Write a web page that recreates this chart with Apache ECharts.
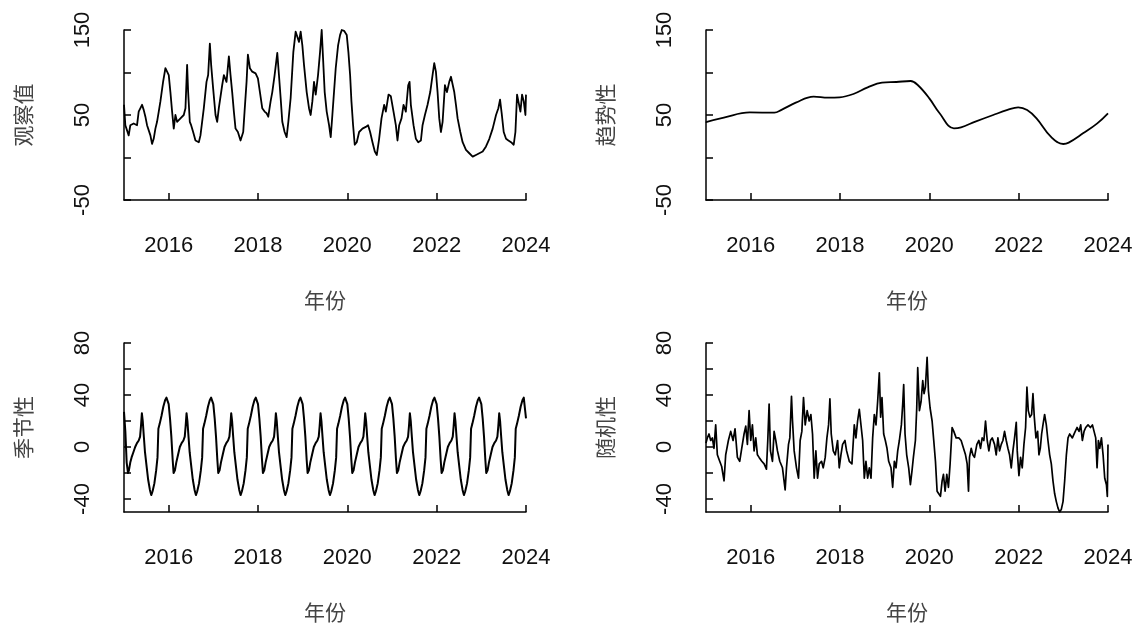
<!DOCTYPE html>
<html>
<head>
<meta charset="utf-8">
<script src="https://cdn.jsdelivr.net/npm/echarts@6/dist/echarts.min.js"></script>
<style>
html,body{margin:0;padding:0;background:#fff;}
#c{width:1144px;height:627px;}
</style>
</head>
<body>
<div id="c"></div>
<script>
// ---------- data (x = years after 2015, y = value) ----------
const baseYear = 2015;
const xTickYears = [2016, 2018, 2020, 2022, 2024];
const panelNames = ['观察值', '趋势性', '季节性', '随机性'];
const xAxisName = '年份';

const observed = [[0,62],[0.03,38],[0.105,26],[0.142,38],[0.217,40],[0.292,38],[0.329,54],[0.404,62],[0.441,56],[0.479,48],
[0.516,38],[0.591,26],[0.628,16],[0.665,22],[0.703,34],[0.74,42],[0.778,54],[0.815,66],[0.875,89],[0.927,105],
[0.965,101],[1.002,97],[1.039,77],[1.077,54],[1.114,34],[1.151,50],[1.189,42],[1.264,46],[1.338,50],[1.376,58],
[1.413,109],[1.436,77],[1.473,42],[1.503,38],[1.548,30],[1.6,20],[1.675,18],[1.712,26],[1.787,58],[1.847,89],
[1.884,97],[1.922,134],[1.951,109],[1.996,81],[2.049,50],[2.086,42],[2.123,58],[2.198,85],[2.236,97],[2.295,89],
[2.348,119],[2.385,97],[2.422,77],[2.46,54],[2.497,34],[2.55,30],[2.609,20],[2.669,30],[2.699,54],[2.744,89],
[2.774,121],[2.819,105],[2.871,101],[2.946,99],[2.998,93],[3.043,77],[3.095,58],[3.148,54],[3.193,52],[3.23,48],
[3.282,66],[3.32,77],[3.372,97],[3.432,123],[3.469,97],[3.507,70],[3.544,42],[3.596,30],[3.641,24],[3.679,42],
[3.731,70],[3.791,124],[3.843,148],[3.88,150],[3.918,136],[3.955,148],[3.993,132],[4.03,109],[4.09,77],[4.142,58],
[4.179,50],[4.217,66],[4.254,89],[4.292,74],[4.344,97],[4.389,124],[4.426,150],[4.456,117],[4.493,77],[4.538,54],
[4.591,38],[4.628,24],[4.665,50],[4.74,105],[4.793,132],[4.837,144],[4.875,150],[4.927,149],[4.987,144],[5.024,124],
[5.062,97],[5.092,66],[5.129,38],[5.166,15],[5.211,18],[5.264,30],[5.338,34],[5.413,36],[5.465,38],[5.51,30],
[5.563,18],[5.615,7],[5.66,3],[5.712,22],[5.765,46],[5.824,62],[5.862,54],[5.922,74],[5.974,72],[6.034,54],
[6.086,38],[6.123,20],[6.161,38],[6.213,46],[6.258,62],[6.31,54],[6.363,85],[6.393,89],[6.422,62],[6.482,38],
[6.535,22],[6.587,18],[6.647,20],[6.684,38],[6.737,50],[6.796,62],[6.856,77],[6.908,97],[6.946,111],[6.983,101],
[7.02,77],[7.058,46],[7.095,30],[7.133,42],[7.185,85],[7.23,77],[7.282,89],[7.32,95],[7.357,93],[7.394,77],
[7.432,62],[7.469,46],[7.529,30],[7.581,18],[7.656,9],[7.731,5],[7.806,1],[7.88,3],[7.955,5],[8.03,7],
[8.105,13],[8.179,22],[8.254,34],[8.329,50],[8.381,58],[8.419,68],[8.456,52],[8.501,30],[8.553,22],[8.606,20],
[8.665,18],[8.725,15],[8.763,30],[8.8,74],[8.837,76],[8.875,54],[8.912,74],[8.95,66],[8.987,50],[9.0,74]];

const trend = [[0,41],[0.02,42],[0.4,47],[0.98,53],[1.53,52.7],[1.69,56],[2.01,64.5],[2.41,71.6],[2.73,70.4],[2.99,70.8],
[3.3,74.7],[3.62,82.5],[3.94,88],[4.26,88.8],[4.58,90],[4.74,85.3],[5.0,69.6],[5.23,52],[5.55,34.3],[5.71,35.5],
[6.03,42.2],[6.43,50],[6.75,55.9],[6.99,59],[7.19,55.9],[7.4,46.1],[7.72,24.5],[8.0,15.9],[8.12,17.5],[8.44,28.4],
[8.76,40.2],[9.0,52]];

// seasonal figure: position within each year and values read for each year 2015..2023
const seasonalFrac = [0,0.03,0.06,0.09,0.11,0.14,0.17,0.21,0.25,0.29,0.33,0.36,0.38,0.4,0.42,0.44,
0.47,0.51,0.54,0.58,0.61,0.64,0.68,0.72,0.75,0.77,0.8,0.84,0.88,0.92,0.95,0.97];
const seasonalByYear = [
[27,12,-12,-20,-18,-12,-8,-4,0,3,5,8,16,26,20,10,-4,-16,-25,-33,-37,-34,-28,-18,-8,14,18,24,31,36,38,37],
[33,22,8,-10,-20,-18,-12,-6,0,3,5,8,16,26,20,10,-4,-16,-25,-33,-37,-34,-28,-18,-8,14,18,24,31,36,38,37],
[33,22,8,-10,-20,-18,-12,-6,0,3,5,8,16,26,20,10,-4,-16,-25,-33,-37,-34,-28,-18,-8,14,18,24,31,36,38,37],
[33,22,8,-10,-20,-18,-12,-6,0,3,5,8,16,26,20,10,-4,-16,-25,-33,-37,-34,-28,-18,-8,14,18,24,31,36,38,37],
[33,22,8,-10,-20,-18,-12,-6,0,3,5,8,16,26,20,10,-4,-16,-25,-33,-37,-34,-28,-18,-8,14,18,24,31,36,38,37],
[33,22,8,-10,-20,-18,-12,-6,0,3,5,8,16,26,20,10,-4,-16,-25,-33,-37,-34,-28,-18,-8,14,18,24,31,36,38,37],
[33,22,8,-10,-20,-18,-12,-6,0,3,5,8,16,26,20,10,-4,-16,-25,-33,-37,-34,-28,-18,-8,14,18,24,31,36,38,37],
[33,22,8,-10,-20,-18,-12,-6,0,3,5,8,16,26,20,10,-4,-16,-25,-33,-37,-34,-28,-18,-8,14,18,24,31,36,38,37],
[33,22,8,-10,-20,-18,-12,-6,0,3,5,8,16,26,20,10,-4,-16,-25,-33,-37,-34,-28,-18,-8,14,18,24,31,36,38,37]];
const seasonalEnd = [9.0, 22];

const random = [[0,3],[0.03,7],[0.067,10],[0.105,5],[0.142,7],[0.179,-1],[0.217,17],[0.254,-6],[0.307,-11],[0.351,-15],
[0.404,-26],[0.441,-6],[0.501,5],[0.553,12],[0.606,5],[0.65,14],[0.703,-8],[0.755,-11],[0.8,-1],[0.852,10],
[0.89,16],[0.927,2],[0.965,28],[1.002,5],[1.039,17],[1.077,-3],[1.114,7],[1.151,-6],[1.189,-8],[1.249,-11],
[1.301,-13],[1.353,-17],[1.383,5],[1.413,33],[1.443,-3],[1.488,-11],[1.525,12],[1.563,5],[1.6,-3],[1.652,-11],
[1.712,-16],[1.772,-33],[1.802,-16],[1.847,2],[1.877,7],[1.914,39],[1.937,20],[1.974,-3],[2.026,-16],[2.071,-24],
[2.108,5],[2.146,12],[2.183,38],[2.221,17],[2.265,28],[2.31,20],[2.348,25],[2.385,10],[2.422,-24],[2.46,-3],
[2.497,-24],[2.535,-13],[2.587,-11],[2.624,-16],[2.669,-8],[2.707,7],[2.744,17],[2.774,37],[2.804,10],[2.849,-3],
[2.894,-6],[2.946,5],[2.983,-16],[3.021,-6],[3.058,2],[3.111,5],[3.148,-3],[3.208,-11],[3.267,-13],[3.32,17],
[3.357,7],[3.394,20],[3.432,29],[3.469,28],[3.507,5],[3.544,-24],[3.581,-11],[3.619,-24],[3.656,-16],[3.694,-24],
[3.731,7],[3.768,25],[3.806,17],[3.843,35],[3.88,57],[3.91,23],[3.94,38],[3.978,10],[4.015,5],[4.052,-1],
[4.09,-11],[4.142,-16],[4.179,-31],[4.217,-11],[4.254,-16],[4.292,-3],[4.329,5],[4.374,17],[4.404,33],[4.426,48],
[4.456,10],[4.493,-6],[4.538,-16],[4.576,-29],[4.613,-18],[4.643,-8],[4.688,5],[4.718,30],[4.74,61],[4.778,28],
[4.815,35],[4.852,51],[4.882,41],[4.912,46],[4.95,69],[4.98,43],[5.017,30],[5.062,20],[5.099,5],[5.137,-11],
[5.174,-34],[5.211,-36],[5.249,-38],[5.286,-26],[5.316,-21],[5.353,-34],[5.391,-21],[5.428,-31],[5.465,-13],[5.51,15],
[5.548,12],[5.6,7],[5.66,7],[5.712,5],[5.765,-1],[5.81,-6],[5.847,-13],[5.877,-34],[5.899,-8],[5.937,-1],
[5.974,-6],[6.011,-8],[6.064,2],[6.109,5],[6.146,-1],[6.183,7],[6.221,5],[6.258,20],[6.296,5],[6.333,-3],
[6.37,5],[6.408,7],[6.46,2],[6.497,-6],[6.535,7],[6.572,-3],[6.61,2],[6.647,5],[6.684,12],[6.722,5],
[6.759,-1],[6.796,-6],[6.834,-16],[6.871,-3],[6.908,7],[6.946,19],[6.968,-3],[7.006,-22],[7.043,-8],[7.08,-16],
[7.118,2],[7.155,15],[7.185,46],[7.215,28],[7.252,23],[7.29,25],[7.32,41],[7.35,23],[7.387,7],[7.424,12],
[7.454,-6],[7.484,-1],[7.514,10],[7.544,17],[7.581,25],[7.619,17],[7.656,5],[7.694,-6],[7.731,-13],[7.768,-26],
[7.806,-36],[7.843,-42],[7.881,-47],[7.918,-50],[7.955,-48],[7.993,-42],[8.03,-26],[8.068,-6],[8.105,7],[8.142,10],
[8.202,7],[8.254,11],[8.307,15],[8.352,12],[8.389,17],[8.426,5],[8.464,12],[8.501,15],[8.553,17],[8.606,15],
[8.651,17],[8.688,12],[8.725,7],[8.755,-16],[8.785,5],[8.815,-1],[8.853,7],[8.89,-6],[8.927,-24],[8.965,-29],
[8.985,-38],[9.0,2]];

const topYTicks = [-50, 0, 50, 100, 150];
const topYLabels = [-50, 50, 150];
const botYTicks = [-40, -20, 0, 20, 40, 60, 80];
const botYLabels = [-40, 0, 40, 80];

// ---------- build ----------
const toYears = arr => arr.map(p => [baseYear + p[0], p[1]]);
const seasonalData = [];
seasonalByYear.forEach((row, yi) => {
  row.forEach((v, j) => seasonalData.push([baseYear + yi + seasonalFrac[j], v]));
});
seasonalData.push([baseYear + seasonalEnd[0], seasonalEnd[1]]);

const grids = [
  {left: 124, top: 30, width: 402, height: 170},
  {left: 706, top: 30, width: 402, height: 170},
  {left: 124, top: 343, width: 402, height: 169},
  {left: 706, top: 343, width: 402, height: 169}
];
const numFont = 'Liberation Sans, Arial, sans-serif';
const cjkFont = 'Noto Sans CJK SC, sans-serif';
const lineCol = '#000';
const plain = v => String(Math.round(v));

function makeX(i) {
  return {
    type: 'value', gridIndex: i, min: 2015, max: 2024,
    axisLine: {show: true, onZero: false, lineStyle: {color: lineCol, width: 1.5}},
    axisTick: {show: true, inside: true, length: 7, customValues: xTickYears, lineStyle: {color: lineCol, width: 1.5}},
    axisLabel: {customValues: xTickYears, formatter: plain, margin: 35, fontSize: 22, color: '#111', fontFamily: numFont},
    splitLine: {show: false},
    name: xAxisName, nameLocation: 'middle', nameGap: 90,
    nameTextStyle: {fontSize: 21, color: '#444', fontFamily: cjkFont}
  };
}
function makeY(i, min, max, ticks, labels, name) {
  return {
    type: 'value', gridIndex: i, min: min, max: max,
    axisLine: {show: true, onZero: false, lineStyle: {color: lineCol, width: 1.5}},
    axisTick: {show: true, inside: true, length: 7, customValues: ticks, lineStyle: {color: lineCol, width: 1.5}},
    axisLabel: {customValues: labels, formatter: plain, rotate: 90, margin: 30, fontSize: 22, color: '#111', fontFamily: numFont},
    splitLine: {show: false},
    name: name, nameLocation: 'middle', nameGap: 90, nameRotate: 90,
    nameTextStyle: {fontSize: 21, color: '#444', fontFamily: cjkFont}
  };
}
function makeSeries(i, data, width, smooth) {
  return {
    type: 'line', xAxisIndex: i, yAxisIndex: i, data: data,
    showSymbol: false, smooth: smooth || false, animation: false,
    lineStyle: {color: lineCol, width: width, join: 'round'}
  };
}

const chart = echarts.init(document.getElementById('c'));
chart.setOption({
  backgroundColor: '#fff',
  animation: false,
  grid: grids,
  xAxis: [makeX(0), makeX(1), makeX(2), makeX(3)],
  yAxis: [
    makeY(0, -50, 150, topYTicks, topYLabels, panelNames[0]),
    makeY(1, -50, 150, topYTicks, topYLabels, panelNames[1]),
    makeY(2, -50, 80, botYTicks, botYLabels, panelNames[2]),
    makeY(3, -50, 80, botYTicks, botYLabels, panelNames[3])
  ],
  series: [
    makeSeries(0, toYears(observed), 1.8),
    makeSeries(1, toYears(trend), 1.8, 0.4),
    makeSeries(2, seasonalData, 2),
    makeSeries(3, toYears(random), 1.7)
  ]
});
</script>
</body>
</html>
